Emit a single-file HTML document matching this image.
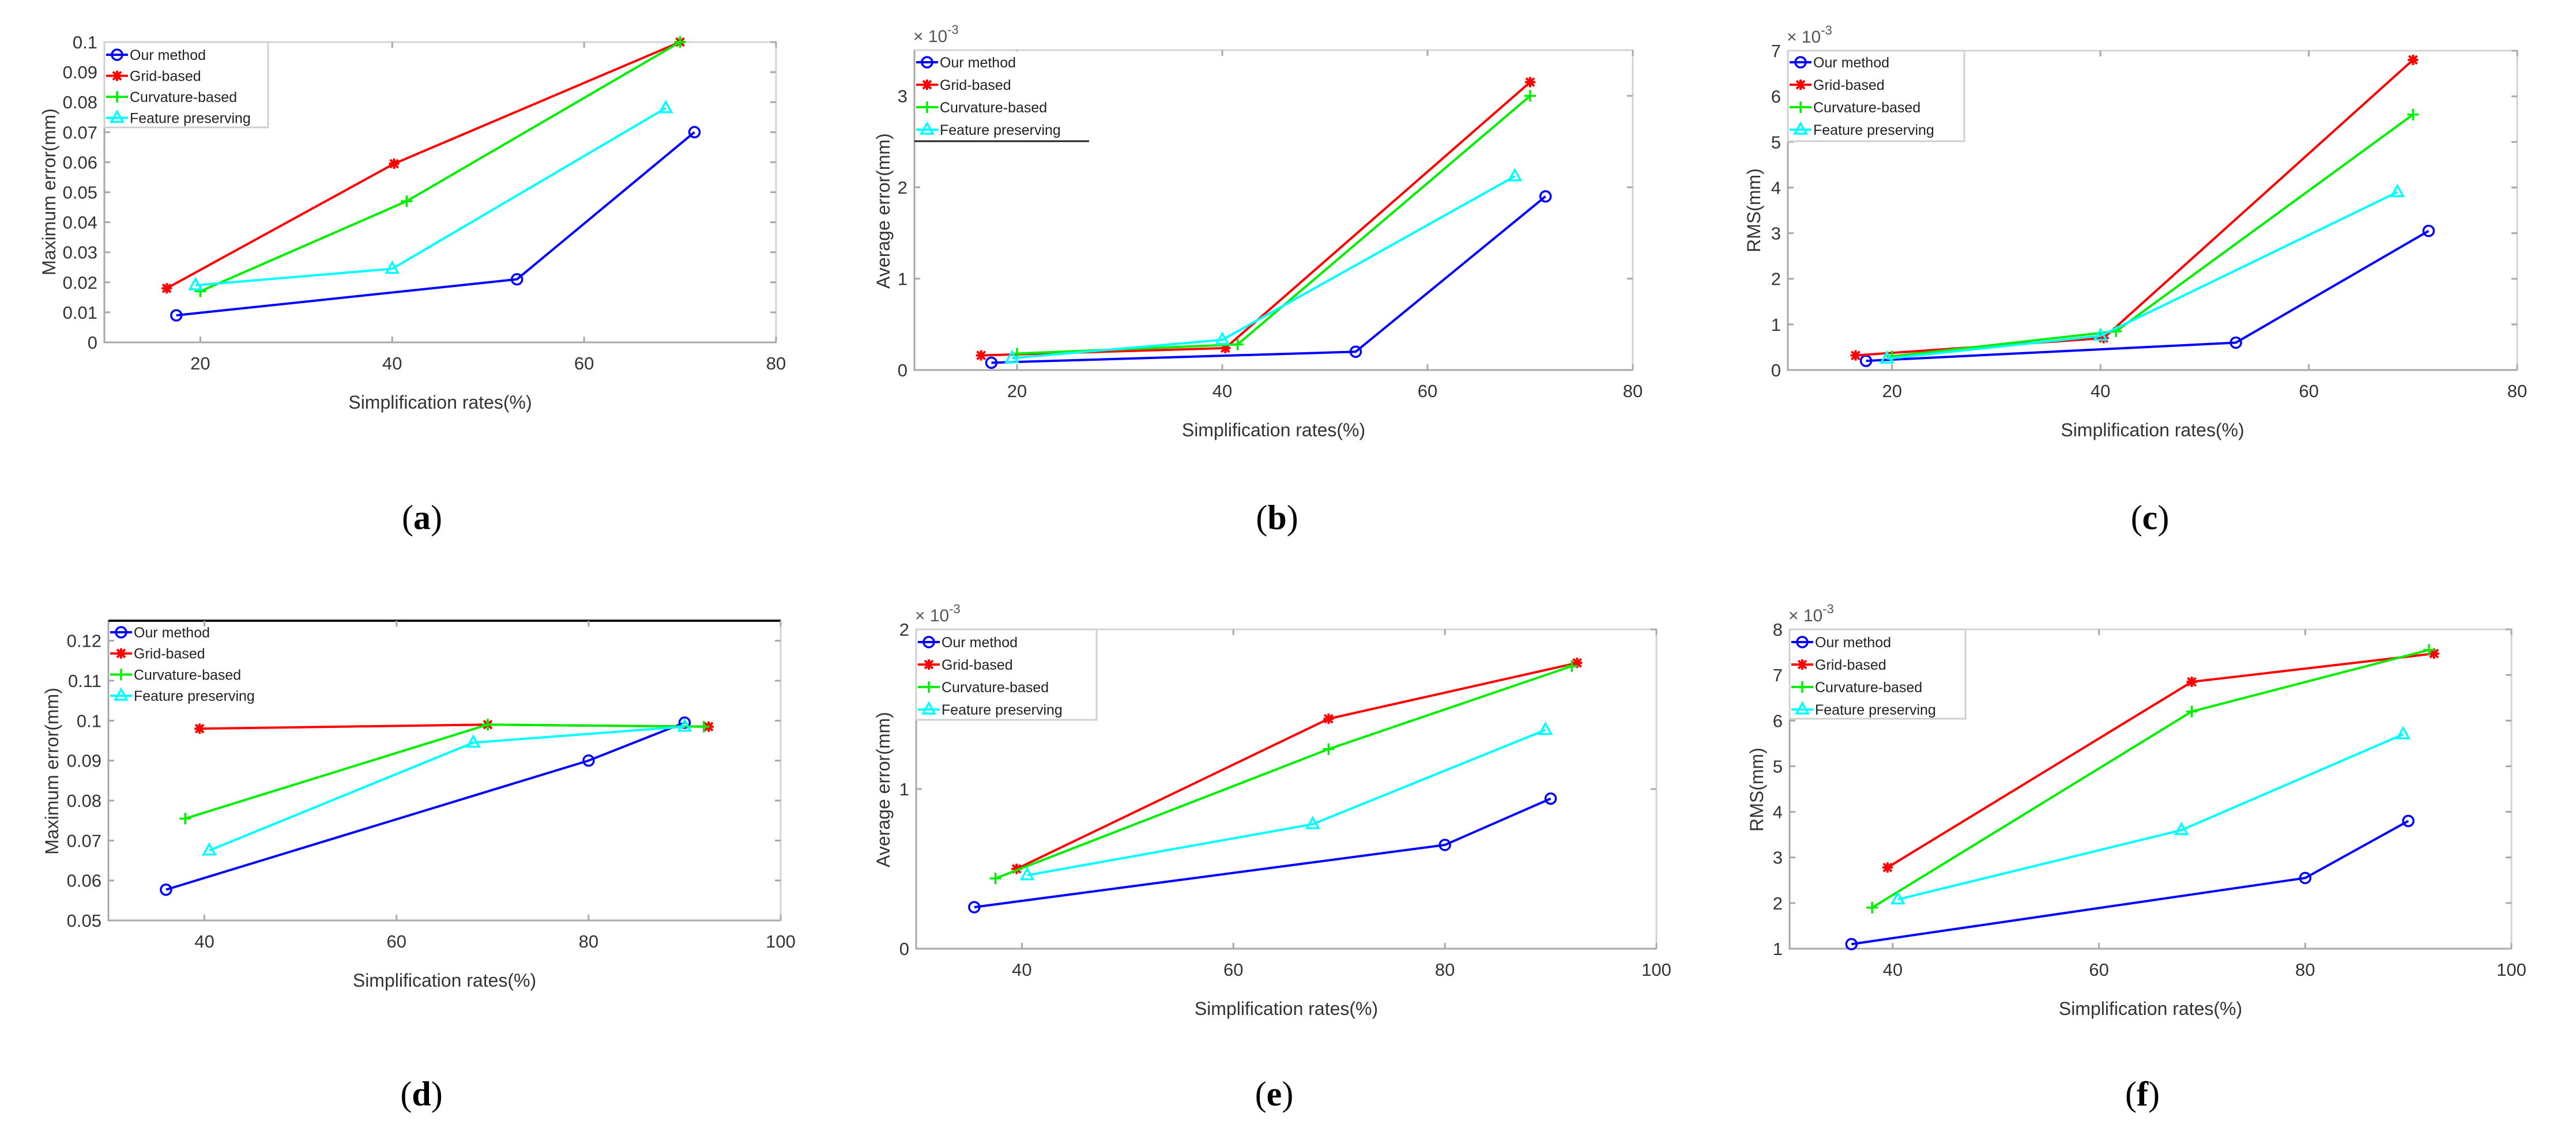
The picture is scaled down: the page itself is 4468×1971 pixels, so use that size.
<!DOCTYPE html>
<html><head><meta charset="utf-8">
<style>
html,body{margin:0;padding:0;background:#fff;}
svg{display:block;font-family:"Liberation Sans",sans-serif;}
</style></head>
<body>
<svg id="fig" width="4468" height="1971" viewBox="0 0 4468 1971" xmlns="http://www.w3.org/2000/svg"></svg>
<script>
const seriesNames = ["Our method","Grid-based","Curvature-based","Feature preserving"];
const seriesColors = ["#0000ff","#ff0000","#00ee00","#00ffff"];
const seriesMarkers = ["circle","star","plus","triangle"];

// Panel a
const aX = [[17.5,53,71.5],[16.5,40.2,70],[20,41.5,70],[19.5,40,68.5]];
const aY = [[0.009,0.021,0.070],[0.018,0.0595,0.100],[0.017,0.047,0.100],[0.019,0.0245,0.078]];
const aYTicks = ["0","0.01","0.02","0.03","0.04","0.05","0.06","0.07","0.08","0.09","0.1"];
const aXTicks = ["20","40","60","80"];
// Panel b (x1e-3)
const bX = [[17.5,53,71.5],[16.5,40.3,70],[20,41.5,70],[19.5,40,68.5]];
const bY = [[0.08,0.20,1.90],[0.16,0.24,3.15],[0.18,0.28,3.00],[0.13,0.33,2.12]];
const bYTicks = ["0","1","2","3"];
const bXTicks = ["20","40","60","80"];
// Panel c (x1e-3)
const cX = [[17.5,53,71.5],[16.5,40.3,70],[20,41.5,70],[19.5,40,68.5]];
const cY = [[0.20,0.60,3.05],[0.32,0.70,6.80],[0.30,0.85,5.60],[0.25,0.75,3.90]];
const cYTicks = ["0","1","2","3","4","5","6","7"];
const cXTicks = ["20","40","60","80"];
// Panel d
const dX = [[36,80,90],[39.5,69.5,92.5],[38,69.5,92],[40.5,68,90]];
const dY = [[0.0577,0.090,0.0995],[0.098,0.099,0.0985],[0.0755,0.099,0.0985],[0.0675,0.0945,0.0985]];
const dYTicks = ["0.05","0.06","0.07","0.08","0.09","0.1","0.11","0.12"];
const dXTicks = ["40","60","80","100"];
// Panel e (x1e-3)
const eX = [[35.5,80,90],[39.5,69,92.5],[37.5,69,92],[40.5,67.5,89.5]];
const eY = [[0.26,0.65,0.94],[0.50,1.44,1.79],[0.44,1.25,1.77],[0.46,0.78,1.37]];
const eYTicks = ["0","1","2"];
const eXTicks = ["40","60","80","100"];
// Panel f (x1e-3)
const fX = [[36,80,90],[39.5,69,92.5],[38,69,92],[40.5,68,89.5]];
const fY = [[1.10,2.55,3.80],[2.78,6.85,7.47],[1.90,6.20,7.55],[2.08,3.60,5.70]];
const fYTicks = ["1","2","3","4","5","6","7","8"];
const fXTicks = ["40","60","80","100"];

const NS="http://www.w3.org/2000/svg";
const svg=document.getElementById('fig');
function mk(tag,attrs,parent){const e=document.createElementNS(NS,tag);for(const k in attrs)e.setAttribute(k,attrs[k]);(parent||svg).appendChild(e);return e;}

function marker(g,type,x,y,color){
  let m;
  if(type==="circle"){m=mk('circle',{cx:x,cy:y,r:9,fill:'none',stroke:color,'stroke-width':3.5},g);}
  else if(type==="star"){m=mk('path',{d:`M${x-9} ${y}H${x+9}M${x} ${y-9}V${y+9}M${x-7} ${y-7}L${x+7} ${y+7}M${x-7} ${y+7}L${x+7} ${y-7}`,stroke:color,'stroke-width':4,fill:'none'},g);}
  else if(type==="plus"){m=mk('path',{d:`M${x-10} ${y}H${x+10}M${x} ${y-10}V${y+10}`,stroke:color,'stroke-width':3.5,fill:'none'},g);}
  else {m=mk('path',{d:`M${x} ${y-11}L${x+10} ${y+7}L${x-10} ${y+7}Z`,stroke:color,'stroke-width':3.5,fill:'none'},g);}
  return m;
}

function panel(cfg){
  const g=mk('g',{});
  
  
  const {L,R,T,B,xmin,xmax,ymin,ymax}=cfg;
  const sx=v=>L+(v-xmin)/(xmax-xmin)*(R-L);
  const sy=v=>B-(v-ymin)/(ymax-ymin)*(B-T);
  // frame
  const fr=mk('rect',{x:L,y:T,width:R-L,height:B-T,fill:'none',stroke:'#d4d4d4','stroke-width':3},g);
  
  
  const ax=mk('path',{d:`M${L} ${T}V${B}H${R}`,fill:'none',stroke:'#a8a8a8','stroke-width':3},g);
  
  
  if(cfg.topBlack){const tb=mk('line',{x1:L,y1:T,x2:R,y2:T,stroke:'#111','stroke-width':4},g);
    
    }
  // y ticks
  cfg.yTicks.forEach(t=>{const v=parseFloat(t);const y=sy(v);
    mk('line',{x1:L,y1:y,x2:L+10,y2:y,stroke:'#a8a8a8','stroke-width':3},g);
    mk('line',{x1:R,y1:y,x2:R-10,y2:y,stroke:'#a8a8a8','stroke-width':3},g);
    const tx=mk('text',{x:L-12,y:y+11,'text-anchor':'end','font-size':31,fill:'#333'},g);tx.textContent=t;
    
    });
  cfg.xTicks.forEach(t=>{const v=parseFloat(t);const x=sx(v);
    mk('line',{x1:x,y1:B,x2:x,y2:B-10,stroke:'#a8a8a8','stroke-width':3},g);
    mk('line',{x1:x,y1:T,x2:x,y2:T+10,stroke:'#a8a8a8','stroke-width':3},g);
    const tx=mk('text',{x:x,y:B+47,'text-anchor':'middle','font-size':31,fill:'#333'},g);tx.textContent=t;
    
    });
  if(cfg.exp){const ex=mk('text',{x:L-2,y:T-14,'font-size':30,fill:'#555'},g);
    ex.innerHTML='× 10<tspan dy="-14" font-size="22">-3</tspan>';
    
    }
  // titles
  const xt=mk('text',{x:(L+R)/2,y:B+115,'text-anchor':'middle','font-size':32,fill:'#333'},g);
  xt.textContent='Simplification rates(%)';
  
  
  const ytx=cfg.ylx, yty=cfg.yly;
  const yt=mk('text',{x:ytx,y:yty,'text-anchor':'middle','font-size':32,fill:'#333',transform:`rotate(-90 ${ytx} ${yty})`},g);
  yt.textContent=cfg.ylabel;
  
  
  // series
  cfg.xs.forEach((xs,i)=>{
    const col=seriesColors[i];
    const pts=xs.map((x,j)=>sx(x)+','+sy(cfg.ys[i][j])).join(' ');
    const pl=mk('polyline',{points:pts,fill:'none',stroke:col,'stroke-width':4},g);
    
    
    xs.forEach((x,j)=>{const m=marker(g,seriesMarkers[i],sx(x),sy(cfg.ys[i][j]),col);
      
      });
  });
  // legend
  const lg=mk('g',{},g);
  
  
  if(cfg.legBox){mk('rect',{x:L,y:T,width:cfg.legW,height:cfg.legH,fill:'#fff',stroke:'#d0d0d0','stroke-width':3},lg);}
  if(cfg.legUnder){mk('rect',{x:L+2,y:T+2,width:cfg.legW,height:cfg.legH,fill:'#fff'},lg);
    mk('line',{x1:L,y1:T+cfg.legH,x2:L+cfg.legW,y2:T+cfg.legH,stroke:'#222','stroke-width':3},lg);}
  seriesNames.forEach((n,i)=>{
    const y=T+cfg.leg0+i*cfg.legStep; const x0=L+3;
    const le=mk('g',{},lg);
    
    
    mk('line',{x1:x0,y1:y,x2:x0+38,y2:y,stroke:seriesColors[i],'stroke-width':4},le);
    marker(le,seriesMarkers[i],x0+19,y,seriesColors[i]);
    const t=mk('text',{x:x0+41,y:y+9,'font-size':25,fill:'#222'},le);t.textContent=n;
  });
  // caption
  const cap=mk('text',{x:cfg.capX,y:cfg.capY,'text-anchor':'middle','font-size':60,'font-family':'Liberation Serif, serif',fill:'#000'},g);
  cap.innerHTML='(<tspan font-weight="bold">'+cfg.id+'</tspan>)';
  
  
}

panel({id:'a',L:181,R:1346,T:73,B:594,xmin:10,xmax:80,ymin:0,ymax:0.1,xs:aX,ys:aY,yTicks:aYTicks,xTicks:aXTicks,
  ylabel:'Maximum error(mm)',ylx:96,yly:333,legBox:true,legW:284,legH:148,leg0:22,legStep:36.5,capX:732,capY:918});
panel({id:'b',L:1586,R:2832,T:87,B:642,xmin:10,xmax:80,ymin:0,ymax:3.5,xs:bX,ys:bY,yTicks:bYTicks,xTicks:bXTicks,exp:true,
  ylabel:'Average error(mm)',ylx:1543,yly:366,legUnder:true,legW:303,legH:158,leg0:21,legStep:39,capX:2215,capY:918});
panel({id:'c',L:3101,R:4366,T:88,B:642,xmin:10,xmax:80,ymin:0,ymax:7,xs:cX,ys:cY,yTicks:cYTicks,xTicks:cXTicks,exp:true,
  ylabel:'RMS(mm)',ylx:3053,yly:365,legBox:true,legW:306,legH:157,leg0:20,legStep:39,capX:3729,capY:918});
panel({id:'d',L:188,R:1354,T:1077,B:1597,xmin:30,xmax:100,ymin:0.05,ymax:0.125,xs:dX,ys:dY,yTicks:dYTicks,xTicks:dXTicks,topBlack:true,
  ylabel:'Maximum error(mm)',ylx:101,yly:1338,legW:0,legH:0,leg0:20,legStep:36.7,capX:731,capY:1918});
panel({id:'e',L:1589,R:2873,T:1092,B:1646,xmin:30,xmax:100,ymin:0,ymax:2,xs:eX,ys:eY,yTicks:eYTicks,xTicks:eXTicks,exp:true,
  ylabel:'Average error(mm)',ylx:1543,yly:1370,legBox:true,legW:313,legH:157,leg0:22,legStep:39,capX:2210,capY:1918});
panel({id:'f',L:3104,R:4356,T:1092,B:1646,xmin:30,xmax:100,ymin:1,ymax:8,xs:fX,ys:fY,yTicks:fYTicks,xTicks:fXTicks,exp:true,
  ylabel:'RMS(mm)',ylx:3058,yly:1370,legBox:true,legW:305,legH:155,leg0:22,legStep:39,capX:3716,capY:1918});
</script>
</body></html>
